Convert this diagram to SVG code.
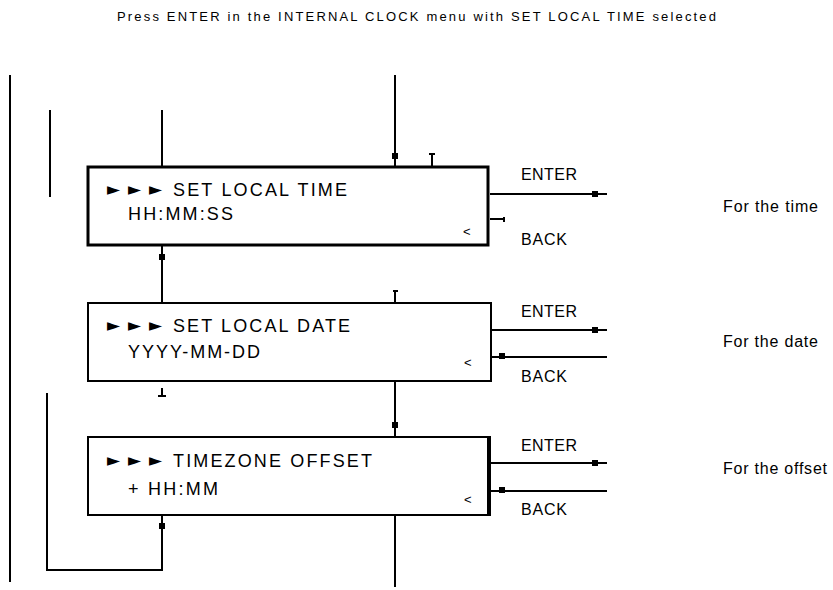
<svg xmlns="http://www.w3.org/2000/svg" xmlns:xlink="http://www.w3.org/1999/xlink" width="833" height="590" viewBox="0 0 833 590">
<style>
  .t { font-family: "Liberation Sans", Arial, sans-serif; fill: #000; }
  .box { fill: #fff; stroke: #000; }
  .ln { stroke: #000; stroke-width: 2; fill: none; }
  .tri { font-family: "DejaVu Sans", sans-serif; font-size: 17px; fill: #000; }
  .lbl { font-size: 16px; }
  .main { font-size: 18px; }
  .sm { font-size: 13px; }
</style>
<defs>
  <rect id="dot" x="-3" y="-3" width="6" height="6" fill="#000"/>
</defs>
<rect width="833" height="590" fill="#fff"/>
<text class="t" x="117" y="21" font-size="13" textLength="599" lengthAdjust="spacing">Press ENTER in the INTERNAL CLOCK menu with SET LOCAL TIME selected</text>

<g id="connectors">
  <line class="ln" x1="10" y1="75" x2="10" y2="582"/>
  <line class="ln" x1="50" y1="110" x2="50" y2="197"/>
  <line class="ln" x1="162" y1="110" x2="162" y2="167"/>
  <line class="ln" x1="395" y1="75" x2="395" y2="167"/>
  <use xlink:href="#dot" x="395" y="156"/>
  <path class="ln" d="M429 154 H435 M432 154 V167"/>
  <line class="ln" x1="162" y1="245" x2="162" y2="303"/>
  <use xlink:href="#dot" x="162" y="257"/>
  <path class="ln" d="M395 290 V303 M393 291 H398"/>
  <line class="ln" x1="490" y1="194" x2="607" y2="194"/>
  <use xlink:href="#dot" x="595" y="194"/>
  <path class="ln" d="M490 219 H505 M504 217 V222"/>
  <path class="ln" d="M162 388 V396 M158 396 H166"/>
  <line class="ln" x1="395" y1="381" x2="395" y2="437"/>
  <use xlink:href="#dot" x="395" y="425"/>
  <line class="ln" x1="491" y1="330" x2="607" y2="330"/>
  <use xlink:href="#dot" x="595" y="330"/>
  <line class="ln" x1="491" y1="357" x2="607" y2="357"/>
  <use xlink:href="#dot" x="502" y="356"/>
  <line class="ln" x1="491" y1="463" x2="607" y2="463"/>
  <use xlink:href="#dot" x="595" y="463"/>
  <line class="ln" x1="491" y1="491" x2="607" y2="491"/>
  <use xlink:href="#dot" x="502" y="490"/>
  <path class="ln" d="M47 393 V570 H162 V515"/>
  <use xlink:href="#dot" x="162" y="526"/>
  <line class="ln" x1="395" y1="515" x2="395" y2="587"/>
</g>

<g id="box-time">
  <rect class="box" x="88" y="167" width="400" height="78" stroke-width="3"/>
  <text class="tri" x="107" y="195" textLength="55" lengthAdjust="spacing">►►►</text>
  <text class="t main" x="173" y="196" textLength="174" lengthAdjust="spacing">SET LOCAL TIME</text>
  <text class="t main" x="128" y="220" textLength="105" lengthAdjust="spacing">HH:MM:SS</text>
  <text class="t sm" x="463" y="236">&lt;</text>
</g>

<g id="box-date">
  <rect class="box" x="88" y="303" width="403" height="78" stroke-width="2"/>
  <text class="tri" x="107" y="331" textLength="55" lengthAdjust="spacing">►►►</text>
  <text class="t main" x="173" y="332" textLength="177" lengthAdjust="spacing">SET LOCAL DATE</text>
  <text class="t main" x="128" y="358" textLength="132" lengthAdjust="spacing">YYYY-MM-DD</text>
  <text class="t sm" x="464" y="367">&lt;</text>
</g>

<g id="box-offset">
  <rect class="box" x="88" y="437" width="401" height="78" stroke-width="2"/>
  <line x1="489" y1="436" x2="489" y2="516" stroke="#000" stroke-width="4"/>
  <text class="tri" x="107" y="466" textLength="55" lengthAdjust="spacing">►►►</text>
  <text class="t main" x="173" y="467" textLength="199" lengthAdjust="spacing">TIMEZONE OFFSET</text>
  <text class="t main" x="128" y="495" textLength="90" lengthAdjust="spacing">+ HH:MM</text>
  <text class="t sm" x="464" y="504">&lt;</text>
</g>

<g id="labels">
  <text class="t lbl" x="521" y="180" textLength="56" lengthAdjust="spacing">ENTER</text>
  <text class="t lbl" x="521" y="245" textLength="46" lengthAdjust="spacing">BACK</text>
  <text class="t lbl" x="521" y="317" textLength="56" lengthAdjust="spacing">ENTER</text>
  <text class="t lbl" x="521" y="382" textLength="46" lengthAdjust="spacing">BACK</text>
  <text class="t lbl" x="521" y="451" textLength="56" lengthAdjust="spacing">ENTER</text>
  <text class="t lbl" x="521" y="515" textLength="46" lengthAdjust="spacing">BACK</text>
</g>

<g id="notes">
  <text class="t lbl" x="723" y="212" textLength="95" lengthAdjust="spacing">For the time</text>
  <text class="t lbl" x="723" y="347" textLength="95" lengthAdjust="spacing">For the date</text>
  <text class="t lbl" x="723" y="474" textLength="104" lengthAdjust="spacing">For the offset</text>
</g>
</svg>
